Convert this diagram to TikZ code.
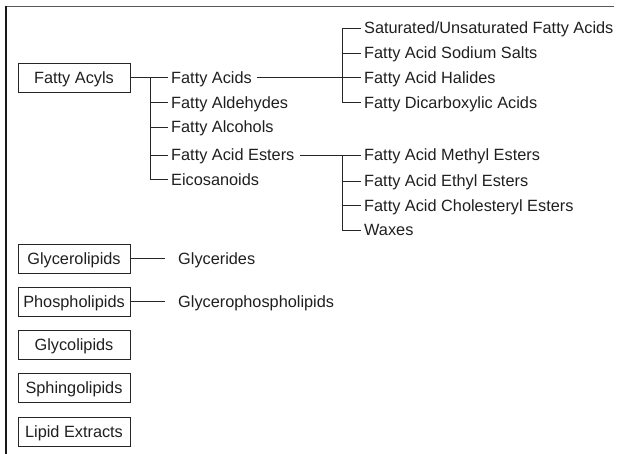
\documentclass[tikz,border=0pt]{standalone}
\usepackage{fontspec}
\setmainfont{Liberation Sans}
\begin{document}
\begin{tikzpicture}[x=1bp,y=-1bp,
  every node/.style={font=\fontsize{16.3bp}{19bp}\selectfont, text=black!88, text height=11.7bp, text depth=0bp},
  cat/.style={draw=black!85, line width=0.9bp, minimum width=112bp, minimum height=29bp, inner sep=0pt},
  item/.style={anchor=west, inner xsep=3bp, inner ysep=0pt},
  conn/.style={draw=black!85, line width=0.9bp}]
\useasboundingbox (0,0) rectangle (617,454);
% frame
\draw[line width=1.3bp, black!65] (6,6.5) -- (614,6.5);
\draw[line width=1.3bp, black!90] (6,6) -- (6,454);

% Fatty Acyls
\node[cat] (acyls) at (74,77.5) {Fatty Acyls};
\node[item] (fa)   at (168,77.5)  {Fatty Acids};
\node[item] (fald) at (168,102.5) {Fatty Aldehydes};
\node[item] (falc) at (168,127)   {Fatty Alcohols};
\node[item] (fae)  at (168,155)   {Fatty Acid Esters};
\node[item] (eic)  at (168,179.5) {Eicosanoids};
\coordinate (t1) at (150.5,77.5);
\draw[conn] (acyls.east) -- (fa.west);
\foreach \n in {fald,falc,fae,eic} \draw[conn] (t1) |- (\n.west);

% Fatty acids subtree
\node[item] (sat) at (361,28)    {Saturated/Unsaturated Fatty Acids};
\node[item] (sod) at (361,53)    {Fatty Acid Sodium Salts};
\node[item] (hal) at (361,77.5)  {Fatty Acid Halides};
\node[item] (dic) at (361,102.5) {Fatty Dicarboxylic Acids};
\coordinate (t2) at (342,77.5);
\draw[conn,shorten <=2bp] (fa.east) -- (t2);
\draw[conn] (t2) |- (sat.west);
\draw[conn] (t2) |- (sod.west);
\draw[conn] (t2) -- (hal.west);
\draw[conn] (t2) |- (dic.west);

% Fatty acid esters subtree
\node[item] (me) at (361,155)   {Fatty Acid Methyl Esters};
\node[item] (et) at (361,181)   {Fatty Acid Ethyl Esters};
\node[item] (ch) at (361,205.5) {Fatty Acid Cholesteryl Esters};
\node[item] (wx) at (361,230)   {Waxes};
\coordinate (t3) at (342,155);
\draw[conn,shorten <=2bp] (fae.east) -- (t3);
\draw[conn] (t3) -- (me.west);
\draw[conn] (t3) |- (et.west);
\draw[conn] (t3) |- (ch.west);
\draw[conn] (t3) |- (wx.west);

% other categories
\node[cat] (glyc) at (74,258.5) {Glycerolipids};
\node[item] (glyd) at (175,258.5) {Glycerides};
\draw[conn,shorten >=10bp] (glyc.east) -- (glyd.west);

\node[cat] (phos) at (74,301.5) {Phospholipids};
\node[item] (gpl) at (175,301.5) {Glycerophospholipids};
\draw[conn,shorten >=10bp] (phos.east) -- (gpl.west);

\node[cat] (glycol) at (74,344.5) {Glycolipids};
\node[cat] (sph) at (74,387.5) {Sphingolipids};
\node[cat] (lex) at (74,432) {Lipid Extracts};
\end{tikzpicture}
\end{document}
